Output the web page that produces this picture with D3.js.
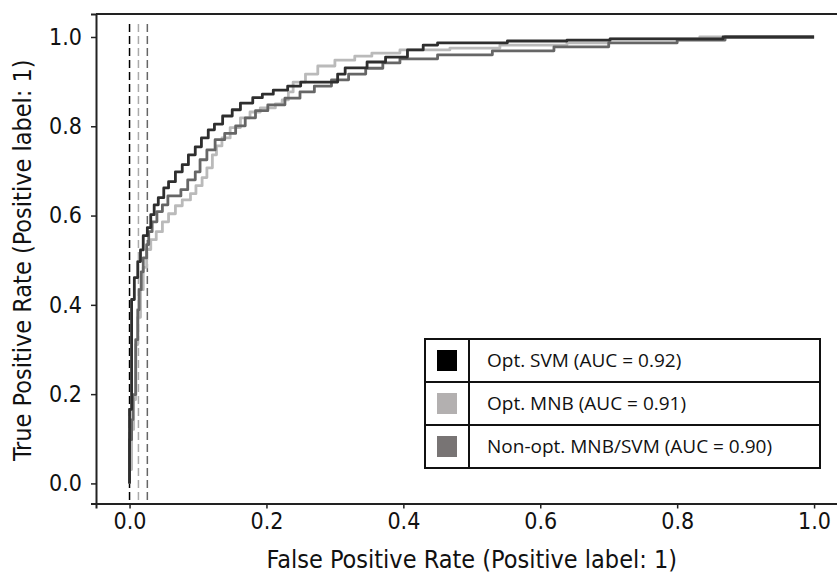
<!DOCTYPE html>
<html>
<head>
<meta charset="utf-8">
<script src="https://cdn.jsdelivr.net/npm/d3@7"></script>
<style>
  body { margin: 0; background: #fff; }
  .tick text { font-family: "DejaVu Sans", sans-serif; font-stretch: condensed; }
</style>
</head>
<body>
<div id="chart"></div>
<script>
// curvas ROC (puntos de las esquinas)
var svmFpr = [0, 0, 0.003, 0.003, 0.007, 0.007, 0.012, 0.012, 0.016, 0.016, 0.020, 0.020, 0.026, 0.026, 0.031, 0.031, 0.036, 0.036, 0.042, 0.042, 0.050, 0.050, 0.057, 0.057, 0.067, 0.067, 0.077, 0.077, 0.086, 0.086, 0.096, 0.096, 0.105, 0.105, 0.115, 0.115, 0.124, 0.124, 0.136, 0.136, 0.150, 0.150, 0.162, 0.162, 0.180, 0.180, 0.194, 0.194, 0.210, 0.210, 0.231, 0.231, 0.250, 0.250, 0.304, 0.304, 0.315, 0.315, 0.347, 0.347, 0.374, 0.374, 0.406, 0.406, 0.429, 0.429, 0.450, 0.450, 0.552, 0.552, 0.639, 0.639, 0.702, 0.702, 0.867, 0.867, 1.0];
var svmTpr = [0, 0.166, 0.166, 0.412, 0.412, 0.461, 0.461, 0.497, 0.497, 0.523, 0.523, 0.555, 0.555, 0.573, 0.573, 0.602, 0.602, 0.624, 0.624, 0.640, 0.640, 0.662, 0.662, 0.676, 0.676, 0.698, 0.698, 0.714, 0.714, 0.736, 0.736, 0.754, 0.754, 0.774, 0.774, 0.792, 0.792, 0.805, 0.805, 0.823, 0.823, 0.837, 0.837, 0.852, 0.852, 0.864, 0.864, 0.872, 0.872, 0.881, 0.881, 0.890, 0.890, 0.899, 0.899, 0.917, 0.917, 0.931, 0.931, 0.944, 0.944, 0.955, 0.955, 0.971, 0.971, 0.982, 0.982, 0.987, 0.987, 0.991, 0.991, 0.993, 0.993, 0.996, 0.996, 1.0, 1.0];

var mnbFpr = [0, 0, 0.003, 0.003, 0.006, 0.006, 0.009, 0.009, 0.012, 0.012, 0.016, 0.016, 0.020, 0.020, 0.025, 0.025, 0.031, 0.031, 0.039, 0.039, 0.048, 0.048, 0.057, 0.057, 0.067, 0.067, 0.077, 0.077, 0.089, 0.089, 0.097, 0.097, 0.106, 0.106, 0.113, 0.113, 0.121, 0.121, 0.127, 0.127, 0.135, 0.135, 0.147, 0.147, 0.162, 0.162, 0.176, 0.176, 0.191, 0.191, 0.213, 0.213, 0.223, 0.223, 0.232, 0.232, 0.239, 0.239, 0.257, 0.257, 0.275, 0.275, 0.300, 0.300, 0.329, 0.329, 0.354, 0.354, 0.395, 0.395, 0.468, 0.468, 0.541, 0.541, 0.639, 0.639, 0.702, 0.702, 0.833, 0.833, 1.0];
var mnbTpr = [0, 0.031, 0.031, 0.121, 0.121, 0.188, 0.188, 0.311, 0.311, 0.372, 0.372, 0.434, 0.434, 0.484, 0.484, 0.524, 0.524, 0.546, 0.546, 0.564, 0.564, 0.586, 0.586, 0.604, 0.604, 0.622, 0.622, 0.635, 0.635, 0.649, 0.649, 0.667, 0.667, 0.685, 0.685, 0.707, 0.707, 0.736, 0.736, 0.756, 0.756, 0.774, 0.774, 0.797, 0.797, 0.819, 0.819, 0.832, 0.832, 0.841, 0.841, 0.850, 0.850, 0.859, 0.859, 0.877, 0.877, 0.899, 0.899, 0.917, 0.917, 0.935, 0.935, 0.948, 0.948, 0.957, 0.957, 0.964, 0.964, 0.971, 0.971, 0.975, 0.975, 0.982, 0.982, 0.987, 0.987, 0.996, 0.996, 1.0, 1.0];

var nonFpr = [0, 0, 0.003, 0.003, 0.005, 0.005, 0.009, 0.009, 0.012, 0.012, 0.014, 0.014, 0.017, 0.017, 0.020, 0.020, 0.025, 0.025, 0.028, 0.028, 0.033, 0.033, 0.040, 0.040, 0.048, 0.048, 0.056, 0.056, 0.075, 0.075, 0.085, 0.085, 0.096, 0.096, 0.103, 0.103, 0.113, 0.113, 0.125, 0.125, 0.139, 0.139, 0.155, 0.155, 0.169, 0.169, 0.184, 0.184, 0.202, 0.202, 0.227, 0.227, 0.249, 0.249, 0.270, 0.270, 0.295, 0.295, 0.320, 0.320, 0.345, 0.345, 0.370, 0.370, 0.395, 0.395, 0.450, 0.450, 0.530, 0.530, 0.620, 0.620, 0.700, 0.700, 0.800, 0.800, 0.870, 0.870, 1.0];
var nonTpr = [0, 0.098, 0.098, 0.143, 0.143, 0.199, 0.199, 0.322, 0.322, 0.389, 0.389, 0.434, 0.434, 0.474, 0.474, 0.505, 0.505, 0.535, 0.535, 0.564, 0.564, 0.586, 0.586, 0.609, 0.609, 0.624, 0.624, 0.644, 0.644, 0.658, 0.658, 0.680, 0.680, 0.698, 0.698, 0.725, 0.725, 0.747, 0.747, 0.770, 0.770, 0.784, 0.784, 0.801, 0.801, 0.819, 0.819, 0.835, 0.835, 0.848, 0.848, 0.863, 0.863, 0.877, 0.877, 0.890, 0.890, 0.904, 0.904, 0.917, 0.917, 0.930, 0.930, 0.942, 0.942, 0.951, 0.951, 0.960, 0.960, 0.969, 0.969, 0.978, 0.978, 0.987, 0.987, 0.993, 0.993, 1.0, 1.0];

// umbrales (lineas verticales discontinuas)
var thresholdFpr = [0, 0.013, 0.026];

var legendLabels = ["Opt. SVM (AUC = 0.92)", "Opt. MNB (AUC = 0.91)", "Non-opt. MNB/SVM (AUC = 0.90)"];
var xTicks = [0, 0.2, 0.4, 0.6, 0.8, 1.0];
var yTicks = [0, 0.2, 0.4, 0.6, 0.8, 1.0];

var _width = 837;
var _height = 574;
var _lineColors = ["#2e2e2e", "#bababa", "#666666"];
var _swatchColors = ["#000000", "#b3b0b0", "#787474"];

var svg = d3.select("#chart").append("svg")
	.attr("width", _width)
	.attr("height", _height)
	.style("background", "#fff");

var x = d3.scaleLinear().domain([-0.049, 1.05]).range([96, 848.3]);
var y = d3.scaleLinear().domain([-0.045, 1.0515]).range([503.5, 14]);

// ejes
var xAxis = svg.append("g")
	.attr("transform", "translate(0," + y(-0.045) + ")")
	.call(d3.axisBottom(x).tickValues(xTicks).tickFormat(d3.format(".1f")).tickSizeOuter(0).tickSize(5).tickPadding(4));

var yAxis = svg.append("g")
	.attr("transform", "translate(" + x(-0.049) + ",0)")
	.call(d3.axisLeft(y).tickValues(yTicks).tickFormat(d3.format(".1f")).tickSizeOuter(0).tickSize(5).tickPadding(9));

[xAxis, yAxis].forEach(function(a){
	a.select(".domain").attr("stroke", "#222").attr("stroke-width", 2);
	a.selectAll(".tick line").attr("stroke", "#222").attr("stroke-width", 1.5);
	a.selectAll(".tick text").attr("fill", "#111").style("font-size", "23px");
});

// borde superior
svg.append("line")
	.attr("x1", x(-0.049)).attr("x2", _width)
	.attr("y1", y(1.0515)).attr("y2", y(1.0515))
	.attr("stroke", "#222").attr("stroke-width", 2);

svg.append("text")
	.attr("x", x(0.5))
	.attr("y", 568)
	.attr("text-anchor", "middle")
	.style("font-family", "DejaVu Sans, sans-serif")
	.style("font-stretch", "condensed")
	.style("font-size", "25px")
	.attr("fill", "#111")
	.text("False Positive Rate (Positive label: 1)");

svg.append("text")
	.attr("transform", "translate(31," + y(0.5) + ") rotate(-90)")
	.attr("text-anchor", "middle")
	.style("font-family", "DejaVu Sans, sans-serif")
	.style("font-stretch", "condensed")
	.style("font-size", "25px")
	.attr("fill", "#111")
	.text("True Positive Rate (Positive label: 1)");

// lineas de umbral
svg.selectAll(".umbral")
	.data(thresholdFpr)
	.enter()
	.append("line")
	.attr("class", "umbral")
	.attr("x1", function(d){ return x(d); })
	.attr("x2", function(d){ return x(d); })
	.attr("y1", y(-0.037))
	.attr("y2", y(1.031))
	.attr("stroke", function(d, i){ return ["#000", "#aaa", "#666"][i]; })
	.attr("stroke-width", 1.5)
	.attr("stroke-dasharray", "8,4");

// curvas
var curves = [
	{fpr: mnbFpr, tpr: mnbTpr, color: _lineColors[1]},
	{fpr: nonFpr, tpr: nonTpr, color: _lineColors[2]},
	{fpr: svmFpr, tpr: svmTpr, color: _lineColors[0]}
];

var line = d3.line()
	.x(function(d){ return x(d[0]); })
	.y(function(d){ return y(d[1]); });

curves.forEach(function(c){
	var pts = c.fpr.map(function(f, i){ return [f, c.tpr[i]]; });
	svg.append("path")
		.attr("d", line(pts))
		.attr("fill", "none")
		.attr("stroke", c.color)
		.attr("stroke-width", 2.8)
		.attr("stroke-linejoin", "round");
});

// leyenda (tabla)
var legX = 425, legY = 339, legW = 395, rowH = 43, colW = 44;
var leg = svg.append("g");

leg.selectAll("rect.celda")
	.data(legendLabels)
	.enter()
	.append("rect")
	.attr("x", legX)
	.attr("y", function(d, i){ return legY + i*rowH; })
	.attr("width", legW)
	.attr("height", rowH)
	.attr("fill", "#fff")
	.attr("stroke", "#111")
	.attr("stroke-width", 2);

leg.append("line")
	.attr("x1", legX + colW).attr("x2", legX + colW)
	.attr("y1", legY).attr("y2", legY + rowH*3)
	.attr("stroke", "#111").attr("stroke-width", 2);

leg.selectAll("rect.muestra")
	.data(legendLabels)
	.enter()
	.append("rect")
	.attr("class", "muestra")
	.attr("x", legX + 12)
	.attr("y", function(d, i){ return legY + i*rowH + 11; })
	.attr("width", 20)
	.attr("height", 21)
	.attr("fill", function(d, i){ return _swatchColors[i]; });

leg.selectAll("text")
	.data(legendLabels)
	.enter()
	.append("text")
	.attr("x", legX + 62)
	.attr("y", function(d, i){ return legY + i*rowH + 28; })
	.style("font-family", "Open Sans, sans-serif")
	.style("font-size", "19px")
	.attr("fill", "#111")
	.text(function(d){ return d; });
</script>
</body>
</html>
